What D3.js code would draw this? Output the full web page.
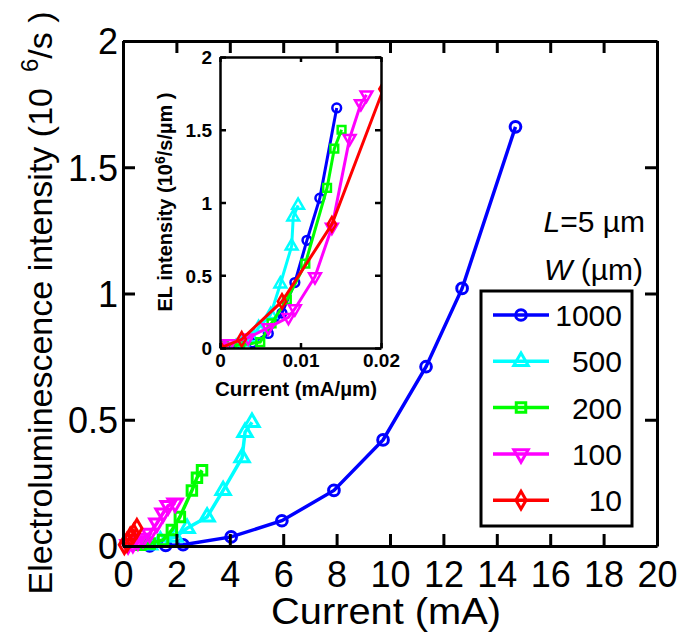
<!DOCTYPE html>
<html lang="en">
<head>
<meta charset="UTF-8">
<title>EL intensity vs current</title>
<script src="https://cdn.jsdelivr.net/npm/d3@7/dist/d3.min.js"></script>
<style>
body { margin: 0; background: #fff; }
svg text { font-family: Arial, "Liberation Sans", sans-serif; fill: #000; }
</style>
</head>
<body>
<svg width="694" height="639"></svg>
<script>
// series labels (W in um) and colours
var widths = ['1000', '500', '200', '100', '10'];
var colors = ['#0000ff', '#00ffff', '#00ff00', '#ff00ff', '#ff0000'];
var shapes = ['circle', 'triangle', 'square', 'tridown', 'diamond'];

// main plot: current (mA) vs EL intensity (10^6/s)
var cur1000 = [1.0, 1.6, 2.25, 4.05, 5.95, 7.9, 9.74, 11.35, 12.7, 14.7];
var el1000  = [0, 0.002, 0.005, 0.036, 0.10, 0.22, 0.42, 0.71, 1.02, 1.66];
var cur500  = [1.0, 1.4, 1.95, 2.4, 3.15, 3.75, 4.46, 4.57, 4.83];
var el500   = [0.005, 0.02, 0.035, 0.07, 0.115, 0.22, 0.35, 0.45, 0.49];
var cur200  = [0.65, 1.0, 1.5, 1.83, 2.13, 2.58, 2.77, 2.96];
var el200   = [0.005, 0.01, 0.024, 0.063, 0.115, 0.22, 0.27, 0.30];
var cur100  = [0.19, 0.37, 0.56, 0.75, 1.0, 1.27, 1.5, 1.69, 1.95];
var el100   = [0.005, 0.01, 0.02, 0.03, 0.05, 0.09, 0.13, 0.16, 0.17];
var cur10   = [0.05, 0.15, 0.27, 0.4, 0.52];
var el10    = [0.005, 0.015, 0.035, 0.05, 0.07];

// inset: current density (mA/um) vs EL intensity (10^6/s/um)
var icur1000 = [0.001, 0.0016, 0.00225, 0.00405, 0.006, 0.0077, 0.0093, 0.0108, 0.0124, 0.0145];
var iel1000  = [0, 0.002, 0.005, 0.036, 0.10, 0.24, 0.45, 0.74, 1.03, 1.65];
var icur500  = [0.002, 0.0028, 0.0039, 0.0048, 0.0063, 0.0075, 0.0089, 0.0091, 0.0097];
var iel500   = [0.01, 0.04, 0.07, 0.14, 0.23, 0.44, 0.7, 0.9, 0.98];
var icur200  = [0.0005, 0.0025, 0.005, 0.0064, 0.0083, 0.0106, 0.0133, 0.0142, 0.0151];
var iel200   = [0.02, 0.02, 0.04, 0.17, 0.33, 0.58, 1.1, 1.37, 1.5];
var icur100  = [0, 0.0012, 0.0035, 0.006, 0.0085, 0.0093, 0.0118, 0.0139, 0.0161, 0.0175, 0.0182];
var iel100   = [0.03, 0.03, 0.07, 0.14, 0.21, 0.27, 0.49, 0.83, 1.44, 1.68, 1.74];
var icur10   = [0, 0.0027, 0.0077, 0.0139, 0.0203];
var iel10    = [0, 0.06, 0.32, 0.85, 1.78];

var xTicks = [0, 2, 4, 6, 8, 10, 12, 14, 16, 18, 20];
var yTicks = [0, 0.5, 1, 1.5, 2];
var ixTicks = [0, 0.01, 0.02];
var iyTicks = [0, 0.5, 1, 1.5, 2];

function zipXY(xs, ys) { return xs.map(function(v, i) { return [v, ys[i]]; }); }
var mainData = [zipXY(cur1000, el1000), zipXY(cur500, el500), zipXY(cur200, el200), zipXY(cur100, el100), zipXY(cur10, el10)];
var insetData = [zipXY(icur1000, iel1000), zipXY(icur500, iel500), zipXY(icur200, iel200), zipXY(icur100, iel100), zipXY(icur10, iel10)];

var svg = d3.select('svg');
var fmt = d3.format('~g');

function symbolPath(shape, size) {
    var t = { circle: d3.symbolCircle, triangle: d3.symbolTriangle, square: d3.symbolSquare,
              tridown: d3.symbolTriangle, diamond: d3.symbolDiamond }[shape];
    return d3.symbol().type(t).size(size)();
}

function drawSeries(g, data, x, y, lw, msize, mw) {
    var line = d3.line().x(function(d) { return x(d[0]); }).y(function(d) { return y(d[1]); });
    data.forEach(function(pts, k) {
        g.append('path').attr('d', line(pts)).attr('fill', 'none')
            .attr('stroke', colors[k]).attr('stroke-width', lw);
        g.selectAll(null).data(pts).enter().append('path')
            .attr('d', symbolPath(shapes[k], msize))
            .attr('transform', function(d) {
                return 'translate(' + x(d[0]) + ',' + y(d[1]) + ')' + (shapes[k] == 'tridown' ? ' rotate(180)' : '');
            })
            .attr('fill', 'none').attr('stroke', colors[k]).attr('stroke-width', mw);
    });
}

// ---------- main axes ----------
var x = d3.scaleLinear().domain([0, 20]).range([123, 657]);
var y = d3.scaleLinear().domain([0, 2]).range([546, 41]);

drawSeries(svg.append('g'), mainData, x, y, 3.5, 90, 3);

function styleAxis(g, lw) {
    g.select('.domain').attr('stroke', '#000').attr('stroke-width', lw);
    g.selectAll('.tick line').attr('stroke', '#000').attr('stroke-width', lw);
}

var gx = svg.append('g').attr('transform', 'translate(0,' + y(0) + ')')
    .call(d3.axisBottom(x).tickValues(xTicks).tickFormat(fmt).tickSizeInner(-12).tickSizeOuter(0).tickPadding(15));
var gy = svg.append('g').attr('transform', 'translate(' + x(0) + ',0)')
    .call(d3.axisLeft(y).tickValues(yTicks).tickFormat(fmt).tickSizeInner(-12).tickSizeOuter(0).tickPadding(5));
var gt = svg.append('g').attr('transform', 'translate(0,' + y(2) + ')')
    .call(d3.axisTop(x).tickValues(xTicks).tickFormat('').tickSizeInner(-12).tickSizeOuter(0));
var gr = svg.append('g').attr('transform', 'translate(' + x(20) + ',0)')
    .call(d3.axisRight(y).tickValues(yTicks).tickFormat('').tickSizeInner(-12).tickSizeOuter(0));
[gx, gy, gt, gr].forEach(function(g) { styleAxis(g, 3); });
[gx, gy].forEach(function(g) {
    g.selectAll('text').attr('font-size', 36).attr('font-family', 'Arial, "Liberation Sans", sans-serif');
});
gy.selectAll('text').attr('dy', '0.36em');

svg.append('text').attr('x', 386).attr('y', 624).attr('text-anchor', 'middle')
    .attr('font-size', 37).attr('textLength', 230).attr('lengthAdjust', 'spacingAndGlyphs')
    .text('Current (mA)');

var ylab = svg.append('text').attr('transform', 'translate(52,303) rotate(-90)')
    .attr('text-anchor', 'middle').attr('font-size', 34);
ylab.append('tspan').text('Electroluminescence intensity (10');
ylab.append('tspan').attr('dx', 16).attr('dy', -14).attr('font-size', 24).text('6');
ylab.append('tspan').attr('dy', 14).text('/s )');

// ---------- inset ----------
var ix = d3.scaleLinear().domain([0, 0.02]).range([220, 381]);
var iy = d3.scaleLinear().domain([0, 2]).range([348, 57]);

svg.append('rect').attr('x', 220).attr('y', 57).attr('width', 161).attr('height', 291).attr('fill', '#fff');
svg.append('clipPath').attr('id', 'insetClip').append('rect')
    .attr('x', 220).attr('y', 57).attr('width', 161).attr('height', 291);
drawSeries(svg.append('g').attr('clip-path', 'url(#insetClip)'), insetData, ix, iy, 3, 60, 2.5);

var igx = svg.append('g').attr('transform', 'translate(0,' + iy(0) + ')')
    .call(d3.axisBottom(ix).tickValues(ixTicks).tickFormat(fmt).tickSizeInner(-5).tickSizeOuter(0).tickPadding(6));
var igy = svg.append('g').attr('transform', 'translate(' + ix(0) + ',0)')
    .call(d3.axisLeft(iy).tickValues(iyTicks).tickFormat(fmt).tickSizeInner(-6).tickSizeOuter(0).tickPadding(8));
var igt = svg.append('g').attr('transform', 'translate(0,' + iy(2) + ')')
    .call(d3.axisTop(ix).tickValues(ixTicks).tickFormat('').tickSizeInner(-5).tickSizeOuter(0));
var igr = svg.append('g').attr('transform', 'translate(' + ix(0.02) + ',0)')
    .call(d3.axisRight(iy).tickValues(iyTicks).tickFormat('').tickSizeInner(-6).tickSizeOuter(0));
[igx, igy, igt, igr].forEach(function(g) { styleAxis(g, 2.5); });
[igx, igy].forEach(function(g) {
    g.selectAll('text').attr('font-size', 19).attr('font-weight', 'bold')
        .attr('font-family', 'Arial, "Liberation Sans", sans-serif');
});
igy.selectAll('text').attr('dy', '0.36em');

svg.append('text').attr('x', 296).attr('y', 396).attr('text-anchor', 'middle')
    .attr('font-size', 20).attr('font-weight', 'bold')
    .attr('textLength', 162).attr('lengthAdjust', 'spacingAndGlyphs').text('Current (mA/\u00b5m)');

var iylab = svg.append('text').attr('transform', 'translate(172,202) rotate(-90)')
    .attr('text-anchor', 'middle').attr('font-size', 20).attr('font-weight', 'bold');
iylab.append('tspan').text('EL intensity (10');
iylab.append('tspan').attr('dy', -7).attr('font-size', 14).text('6');
iylab.append('tspan').attr('dy', 7).text('/s/\u00b5m )');

// ---------- legend ----------
svg.append('text').attr('x', 645).attr('y', 232).attr('text-anchor', 'end').attr('font-size', 30)
    .html('<tspan font-style="italic">L</tspan>=5 \u00b5m');
svg.append('text').attr('x', 643).attr('y', 280).attr('text-anchor', 'end').attr('font-size', 30)
    .html('<tspan font-style="italic">W</tspan> (\u00b5m)');

var leg = svg.append('g');
leg.append('rect').attr('x', 481).attr('y', 291).attr('width', 151).attr('height', 235)
    .attr('fill', '#fff').attr('stroke', '#000').attr('stroke-width', 3);
widths.forEach(function(w, k) {
    var ly = 315 + k * 46.3;
    leg.append('line').attr('x1', 493).attr('x2', 549).attr('y1', ly).attr('y2', ly)
        .attr('stroke', colors[k]).attr('stroke-width', 3.5);
    leg.append('path').attr('d', symbolPath(shapes[k], 90))
        .attr('transform', 'translate(521,' + ly + ')' + (shapes[k] == 'tridown' ? ' rotate(180)' : ''))
        .attr('fill', 'none').attr('stroke', colors[k]).attr('stroke-width', 3);
    leg.append('text').attr('x', 622).attr('y', ly + 11).attr('text-anchor', 'end')
        .attr('font-size', 30).text(w);
});
</script>
</body>
</html>
